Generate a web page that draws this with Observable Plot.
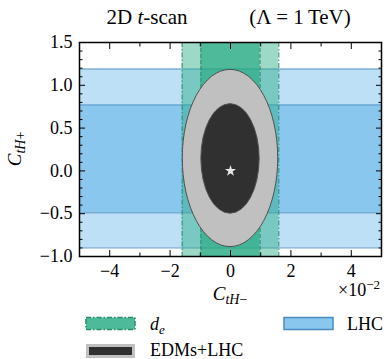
<!DOCTYPE html>
<html><head><meta charset="utf-8">
<script src="https://cdn.jsdelivr.net/npm/d3@7"></script>
<script src="https://cdn.jsdelivr.net/npm/@observablehq/plot@0.6"></script>
<style>
body{margin:0;background:#fff;font-family:'Liberation Serif','DejaVu Serif',serif;}
svg{display:block;}
svg text{font-family:'Liberation Serif','DejaVu Serif',serif;}
</style></head><body>
<div id="title"></div>
<div id="chart"></div>
<div id="legend"></div>
<script>
// ---- data ----
const xMajor = [-4, -2, 0, 2, 4];
const xTickLabels = ["−4", "−2", "0", "2", "4"];
const xMinor = [-5, -3, -1, 1, 3, 5];
const yMajor = [-1, -0.5, 0, 0.5, 1, 1.5];
const yTickLabels = ["−1.0", "−0.5", "0.0", "0.5", "1.0", "1.5"];
const yMinor = [-0.9,-0.8,-0.7,-0.6,-0.4,-0.3,-0.2,-0.1,0.1,0.2,0.3,0.4,0.6,0.7,0.8,0.9,1.1,1.2,1.3,1.4];

const levels = ["2σ", "1σ"];
const lhcLo = [-0.90, -0.49];
const lhcHi = [1.19, 0.77];
const deLo = [-1.60, -0.98];
const deHi = [1.60, 0.98];
const ellCx = [0, 0];
const ellCy = [0.145, 0.14];
const ellRx = [1.58, 0.965];
const ellRy = [1.035, 0.64];
const bestX = [0];
const bestY = [0];

const lhcRows = levels.map((k, i) => ({level: k, lo: lhcLo[i], hi: lhcHi[i]}));
const deRows = levels.map((k, i) => ({level: k, lo: deLo[i], hi: deHi[i]}));
const ellRows = levels.map((k, i) => ({level: k, cx: ellCx[i], cy: ellCy[i], rx: ellRx[i], ry: ellRy[i]}));
const bestRows = bestX.map((x, i) => ({x, y: bestY[i]}));
const lhcEdges = lhcRows.flatMap(d => [d.lo, d.hi]);

// ---- styles ----
const FONT = "'Liberation Serif','DejaVu Serif',serif";
const lhcFill = {"2σ": "#bee0f6", "1σ": "#89c7ee"};
const lhcEdge = "#5b97c4";
const deGreen = "rgb(40,170,130)";
const deOpacity = {"2σ": 0.45, "1σ": 0.67};
const deEdge = "#2c8a6c";
const deDash = {"2σ": "5,2,1.5,2", "1σ": "4,2"};
const ellFill = {"2σ": "#c0c0c0", "1σ": "#303030"};

// ---- title ----
const tsvg = d3.select("#title").append("svg").attr("width", 387).attr("height", 32)
  .style("font-family", FONT).style("font-size", "21px");
const t1 = tsvg.append("text").attr("x", 147).attr("y", 24).attr("text-anchor", "middle");
t1.append("tspan").text("2D ");
t1.append("tspan").attr("font-style", "italic").text("t");
t1.append("tspan").text("-scan");
tsvg.append("text").attr("x", 300).attr("y", 24).attr("text-anchor", "middle").text("(Λ = 1\u2009TeV)");

// ---- plot ----
const W = 387, H = 276, mL = 79, mR = 6, mT = 10, mB = 52;

function ellipseMark(index, scales) {
  const g = d3.create("svg:g");
  ellRows.forEach(d => {
    const cx = scales.x(d.cx), cy = scales.y(d.cy);
    const rx = Math.abs(scales.x(d.cx + d.rx) - cx);
    const ry = Math.abs(scales.y(d.cy + d.ry) - cy);
    g.append("ellipse").attr("cx", cx).attr("cy", cy).attr("rx", rx).attr("ry", ry)
      .attr("fill", ellFill[d.level]).attr("stroke", "#505050").attr("stroke-width", 1);
  });
  return g.node();
}

const plot = Plot.plot({
  width: W, height: H, marginLeft: mL, marginRight: mR, marginTop: mT, marginBottom: mB,
  x: {domain: [-5, 5]},
  y: {domain: [-1, 1.5]},
  style: {fontFamily: FONT, fontSize: "18px", background: "white", color: "black", overflow: "visible"},
  marks: [
    ...lhcRows.map(d => Plot.rect([d], {y1: "lo", y2: "hi", fill: lhcFill[d.level]})),
    Plot.ruleY(lhcEdges, {stroke: lhcEdge, strokeWidth: 1}),
    ...deRows.map(d => Plot.rect([d], {x1: "lo", x2: "hi", fill: deGreen, fillOpacity: deOpacity[d.level]})),
    ...deRows.map(d => Plot.ruleX([d.lo, d.hi], {stroke: deEdge, strokeWidth: 1, strokeDasharray: deDash[d.level]})),
    ellipseMark,
    Plot.dot(bestRows, {x: "x", y: "y", symbol: "star", fill: "#e6e6e6", r: 3.5}),
    // ticks (inward, mirrored)
    Plot.axisX(xMajor, {anchor: "bottom", tickSize: -6, fill: null, label: null}),
    Plot.axisX(xMajor, {anchor: "top", tickSize: -6, fill: null, label: null}),
    Plot.axisX(xMinor, {anchor: "bottom", tickSize: -3.5, fill: null, label: null}),
    Plot.axisX(xMinor, {anchor: "top", tickSize: -3.5, fill: null, label: null}),
    Plot.axisY(yMajor, {anchor: "left", tickSize: -6, fill: null, label: null}),
    Plot.axisY(yMajor, {anchor: "right", tickSize: -6, fill: null, label: null}),
    Plot.axisY(yMinor, {anchor: "left", tickSize: -3.5, fill: null, label: null}),
    Plot.axisY(yMinor, {anchor: "right", tickSize: -3.5, fill: null, label: null}),
    // labels
    Plot.axisX(xMajor, {anchor: "bottom", tickSize: 0, tickPadding: 8, label: null,
      tickFormat: d => xTickLabels[xMajor.indexOf(d)]}),
    Plot.axisY(yMajor, {anchor: "left", tickSize: 0, tickPadding: 7, label: null,
      tickFormat: d => yTickLabels[yMajor.indexOf(d)]}),
    Plot.frame({stroke: "black", strokeWidth: 1.5})
  ]
});
document.getElementById("chart").appendChild(plot);

// axis titles
const ps = d3.select(plot);
const cxFrame = mL + (W - mL - mR) / 2;
const cyFrame = mT + (H - mT - mB) / 2;
const ylab = ps.append("text").attr("transform", `translate(21,${cyFrame}) rotate(-90)`)
  .attr("text-anchor", "middle").style("font-size", "19px");
ylab.append("tspan").attr("font-style", "italic").text("C");
ylab.append("tspan").attr("font-size", "14px").attr("dy", 4).attr("font-style", "italic").text("tH");
ylab.append("tspan").attr("font-size", "14px").text("+");

const xlab = ps.append("text").attr("x", cxFrame).attr("y", 268).attr("text-anchor", "middle").style("font-size", "19px");
xlab.append("tspan").attr("font-style", "italic").text("C");
xlab.append("tspan").attr("font-size", "14px").attr("dy", 4).attr("font-style", "italic").text("tH");
xlab.append("tspan").attr("font-size", "14px").text("−");

const mult = ps.append("text").attr("x", W - 7).attr("y", 264).attr("text-anchor", "end").style("font-size", "18px");
mult.append("tspan").text("×10");
mult.append("tspan").attr("font-size", "13px").attr("dy", -7).text("−2");

// ---- legend ----
const lg = d3.select("#legend").append("svg").attr("width", 387).attr("height", 51)
  .style("font-family", FONT).style("font-size", "18px");
lg.append("rect").attr("x", 86).attr("y", 9.5).attr("width", 49).attr("height", 12)
  .attr("fill", "rgb(77,187,154)").attr("stroke", deEdge).attr("stroke-width", 1.5).attr("stroke-dasharray", "5,2,1.5,2");
const dl = lg.append("text").attr("x", 150).attr("y", 22);
dl.append("tspan").attr("font-style", "italic").text("d");
dl.append("tspan").attr("font-style", "italic").attr("font-size", "13px").attr("dy", 4).text("e");
lg.append("rect").attr("x", 284).attr("y", 9.5).attr("width", 49).attr("height", 12)
  .attr("fill", lhcFill["1σ"]).attr("stroke", "#4a8cbf").attr("stroke-width", 1.5);
lg.append("text").attr("x", 347).attr("y", 22).text("LHC");
lg.append("rect").attr("x", 87.5).attr("y", 37.5).attr("width", 46).attr("height", 11)
  .attr("fill", ellFill["1σ"]).attr("stroke", ellFill["2σ"]).attr("stroke-width", 3);
lg.append("text").attr("x", 150).attr("y", 48).text("EDMs+LHC");
</script>
</body></html>
